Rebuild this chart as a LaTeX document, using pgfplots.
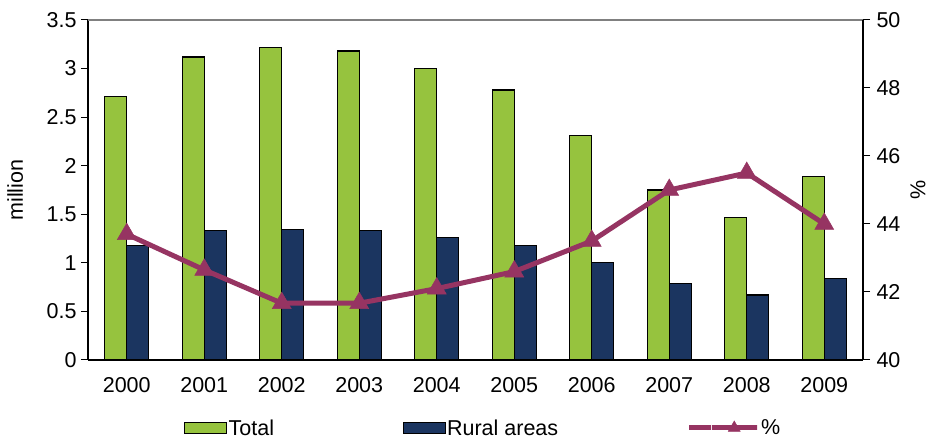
\documentclass[border=0pt]{standalone}
\usepackage{pgfplots}
\pgfplotsset{compat=1.18}
\usepackage{fontspec}
\setmainfont{Liberation Sans}
\definecolor{cgreen}{RGB}{150,195,62}
\definecolor{cblue}{RGB}{27,53,96}
\definecolor{cpurple}{RGB}{150,52,98}
\pgfplotsset{
  barleg/.style={legend image code/.code={\draw[##1, line width=1pt] (0pt,-5.5pt) rectangle (42pt,5.5pt);}},
  lineleg/.style={legend image code/.code={\draw[mark repeat=2, mark phase=2, ##1] plot coordinates {(0pt,0pt) (23pt,0pt) (46pt,0pt)};}},
}
\begin{document}
\begin{tikzpicture}
\pgfplotsset{
  every axis/.append style={
    font=\fontsize{21.5}{25}\selectfont,
    /pgf/number format/assume math mode=true,
    scale only axis, width=775pt, height=340pt,
    xmin=-0.5, xmax=9.5,
    tick style={black, line width=1pt},
  },
}
\path[use as bounding box] (-88pt,-78pt) rectangle (845pt,360pt);
\begin{axis}[
  at={(0,0)}, anchor=south west,
  ymin=0, ymax=3.5,
  ytick={0,0.5,1,1.5,2,2.5,3,3.5},
  yticklabels={0,0.5,1,1.5,2,2.5,3,3.5},
  axis x line*=bottom, axis y line*=left,
  axis line style={black, line width=1.2pt, -},
  tick align=outside,
  major tick length=7pt,
  xtick={0,...,9},
  xticklabels={2000,2001,2002,2003,2004,2005,2006,2007,2008,2009},
  x tick style={draw=none},
  minor xtick={-0.5,0.5,...,9.5},
  minor x tick style={black, line width=1pt},
  minor tick length=7pt,
  xticklabel style={yshift=-7pt},
  yticklabel style={xshift=-1pt},
  ylabel={million},
  ylabel style={at={(axis description cs:-0.094,0.5)}, anchor=center},
  ybar=0pt, bar width=22pt,
  legend columns=3,
  legend style={draw=none, fill=none, at={(axis description cs:0.12,-0.2)}, anchor=west,
    /tikz/every even column/.append style={column sep=127pt},
    nodes={inner sep=1.5pt}, font=\fontsize{21.5}{25}\selectfont},
]
\addplot[fill=cgreen, draw=black, line width=1.2pt, barleg]
  coordinates {(0,2.71) (1,3.12) (2,3.22) (3,3.18) (4,3.00) (5,2.78) (6,2.31) (7,1.75) (8,1.47) (9,1.89)};
\addlegendentry{Total}
\addplot[fill=cblue, draw=black, line width=1.2pt, barleg]
  coordinates {(0,1.18) (1,1.335) (2,1.345) (3,1.33) (4,1.26) (5,1.18) (6,1.005) (7,0.786) (8,0.67) (9,0.837)};
\addlegendentry{Rural areas}
\addlegendimage{color=cpurple, line width=5pt, mark=triangle*, mark size=7pt, mark options={line width=0.5pt}, lineleg}
\addlegendentry{\%}
\draw[gray, line width=1.2pt] (rel axis cs:0,1) -- (rel axis cs:1,1);
\end{axis}
\begin{axis}[
  at={(0,0)}, anchor=south west,
  ymin=40, ymax=50,
  ytick={40,42,44,46,48,50},
  axis x line=none, axis y line*=right,
  axis line style={black, line width=1.2pt, -},
  tick align=outside,
  major tick length=7pt,
  yticklabel style={xshift=3pt},
  ylabel={\%},
  ylabel style={at={(axis description cs:1.071,0.5)}, anchor=center},
]
\addplot[color=cpurple, line width=5pt, mark=triangle*, mark size=11pt, mark options={line width=0.5pt}]
  coordinates {(0,43.7) (1,42.65) (2,41.67) (3,41.67) (4,42.1) (5,42.6) (6,43.5) (7,45.0) (8,45.5) (9,44.0)};
\end{axis}
\end{tikzpicture}
\end{document}
